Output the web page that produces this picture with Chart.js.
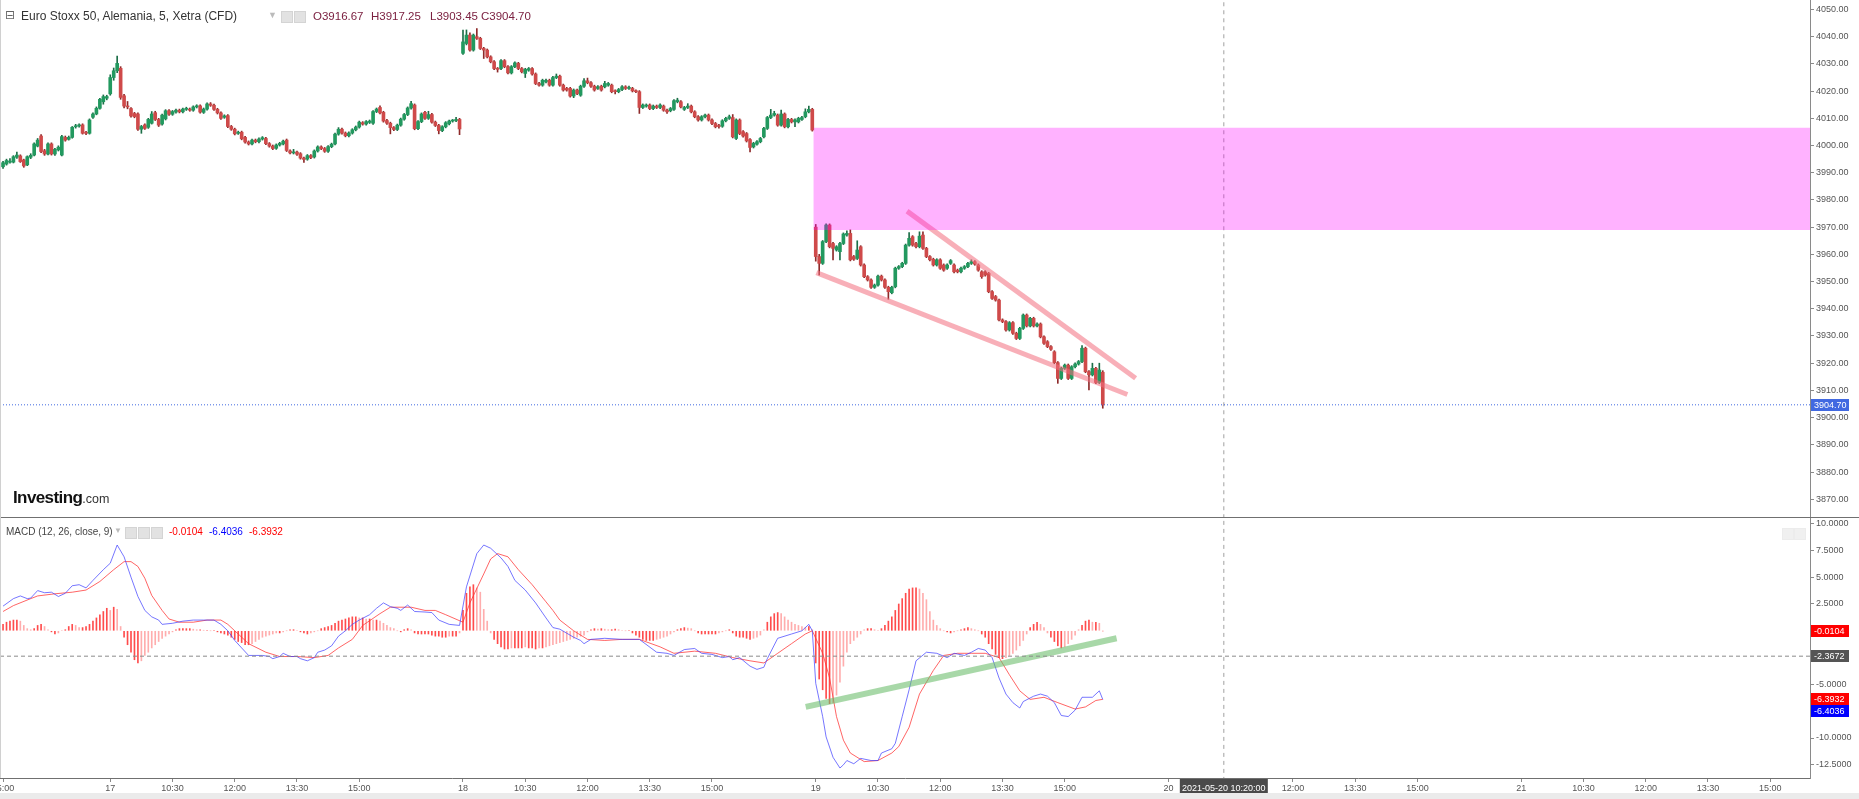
<!DOCTYPE html>
<html>
<head>
<meta charset="utf-8">
<script src="https://cdn.jsdelivr.net/npm/chart.js@4.4.1/dist/chart.umd.min.js"></script>
<style>
html, body { margin: 0; padding: 0; background: #fff; }
#wrap { position: relative; width: 1859px; height: 799px; overflow: hidden; font-family: "Liberation Sans", Arial, sans-serif; }
#price { position: absolute; left: 0; top: 0; }
#macd { position: absolute; left: 0; top: 518px; }
.sep { position: absolute; left: 0; top: 517px; width: 1859px; height: 1px; background: #707070; }
.lborder { position: absolute; left: 0; top: 0; width: 1px; height: 778px; background: #d0d0d0; }
.strip { position: absolute; left: 0; top: 793px; width: 1859px; height: 6px; background: #ebebeb; }
.t { position: absolute; white-space: nowrap; line-height: 14px; }
.ico { position: absolute; width: 10px; height: 10px; background: #e2e2e2; border: 1px solid #d4d4d4; }
#logo { position: absolute; left: 13px; top: 488px; font-weight: bold; font-size: 17px; letter-spacing: -0.6px; color: #111; }
#logo span { font-weight: normal; font-size: 12.5px; letter-spacing: 0; color: #333; }
</style>
</head>
<body>
<div id="wrap">
  <canvas id="price" width="1859" height="518"></canvas>
  <canvas id="macd" width="1859" height="281"></canvas>
  <div class="sep"></div>
  <div class="lborder"></div>
  <div class="strip"></div>

  <div class="t" style="left:5px;top:8px;font-size:12px;color:#666;font-family:'DejaVu Sans'">⊟</div>
  <div class="t" style="left:21px;top:9px;font-size:12px;color:#333">Euro Stoxx 50, Alemania, 5, Xetra (CFD)</div>
  <div class="t" style="left:268px;top:8px;font-size:9px;color:#bbb">▼</div>
  <div class="ico" style="left:281px;top:11px"></div>
  <div class="ico" style="left:294px;top:11px"></div>
  <div class="t" style="left:313px;top:9px;font-size:11.5px;color:#7b2040">O3916.67</div>
  <div class="t" style="left:371px;top:9px;font-size:11.5px;color:#7b2040">H3917.25</div>
  <div class="t" style="left:430px;top:9px;font-size:11.5px;color:#7b2040">L3903.45</div>
  <div class="t" style="left:481px;top:9px;font-size:11.5px;color:#7b2040">C3904.70</div>

  <div class="t" style="left:6px;top:525px;font-size:10px;color:#444">MACD (12, 26, close, 9)</div>
  <div class="t" style="left:114px;top:524px;font-size:8px;color:#bbb">▼</div>
  <div class="ico" style="left:125px;top:527px"></div>
  <div class="ico" style="left:138px;top:527px"></div>
  <div class="ico" style="left:151px;top:527px"></div>
  <div class="t" style="left:169px;top:525px;font-size:10px;color:#ff0000">-0.0104</div>
  <div class="t" style="left:209px;top:525px;font-size:10px;color:#0000ff">-6.4036</div>
  <div class="t" style="left:249px;top:525px;font-size:10px;color:#ff0000">-6.3932</div>
  <div class="ico" style="left:1782px;top:528px;background:#f0f0f0;border-color:#ececec"></div>
  <div class="ico" style="left:1794px;top:528px;background:#f0f0f0;border-color:#ececec"></div>

  <div id="logo">Investing<span>.com</span></div>
</div>

<script>
// 表示範囲（バー番号）
const xMin = -31.88, xMax = 491.5;

// ローソク足 [始値, 高値, 安値, 終値] 14日午後
const day14 = [
  [3992.2,3994.2,3991.6,3993.7],[3993.2,3995.0,3992.8,3994.5],[3993.9,3995.2,3993.5,3994.2],[3993.9,3996.3,3993.6,3995.9],[3995.7,3997.6,3995.3,3996.5],[3996.2,3996.6,3993.8,3994.1],
  [3994.7,3995.0,3992.0,3992.5],[3992.9,3996.2,3992.6,3995.9],[3995.7,3997.0,3995.2,3996.4],[3996.5,4001.0,3996.2,4000.6],[3999.8,4002.6,3999.5,4002.0],[4003.5,4004.0,3997.4,3997.8],
  [3998.1,3998.6,3996.4,3996.9],[3996.9,4001.0,3996.6,4000.6],[4000.6,4001.0,3996.5,3996.9],[3996.9,3999.0,3996.4,3998.6],[3998.4,3999.9,3998.0,3999.4],[3996.5,4003.8,3996.2,4003.3],
  [4003.0,4003.5,4001.6,4002.0],[4002.3,4003.5,4002.0,4003.0],[4003.0,4007.0,4002.7,4006.7],[4006.9,4007.8,4006.4,4007.2],[4007.2,4008.0,4006.8,4007.6],[4007.6,4008.0,4004.2,4004.5],
  [4004.7,4005.2,4004.0,4004.5],[4004.5,4009.8,4004.2,4009.4],[4010.4,4012.0,4010.0,4011.6],[4011.6,4014.2,4011.3,4013.7],[4013.7,4017.4,4013.4,4017.0],[4016.1,4018.6,4015.2,4018.0],
  [4017.4,4018.5,4016.8,4018.0]
];
// 17日
const day17 = [
  [4019.0,4026.0,4018.5,4025.0],[4025.0,4028.5,4024.0,4027.5],[4027.5,4032.9,4026.8,4030.2],[4028.4,4029.0,4017.0,4017.7],[4018.3,4018.8,4013.8,4014.5],[4014.5,4016.2,4013.5,4014.2],
  [4013.6,4014.0,4010.4,4010.9],[4011.8,4012.2,4010.2,4010.6],[4011.6,4012.0,4005.6,4006.0],[4006.0,4007.4,4004.5,4007.0],[4007.6,4008.0,4005.9,4006.3],[4006.7,4010.0,4006.3,4009.6],
  [4008.2,4012.5,4007.9,4011.6],[4012.1,4012.6,4009.2,4009.6],[4009.6,4010.0,4007.0,4007.5],[4007.9,4011.6,4007.5,4011.2],[4009.8,4013.2,4009.4,4012.8],[4012.8,4013.2,4011.1,4011.5],
  [4011.5,4012.9,4011.1,4012.5],[4012.3,4013.4,4011.9,4013.0],[4013.0,4013.4,4012.0,4012.4],[4012.4,4013.8,4012.0,4013.4],[4013.3,4014.1,4012.9,4013.7],[4013.4,4013.8,4012.6,4013.0],
  [4013.0,4014.6,4012.6,4014.2],[4014.2,4015.0,4013.8,4014.6],[4014.6,4015.0,4011.9,4012.3],[4012.2,4013.8,4011.8,4013.4],[4013.4,4015.7,4013.0,4015.3],[4015.3,4015.8,4014.4,4014.8],
  [4014.8,4015.2,4012.9,4013.3],[4013.3,4013.7,4011.6,4012.0],[4012.0,4012.4,4009.6,4010.0],[4010.4,4011.3,4010.0,4010.9],[4011.0,4011.4,4006.6,4007.0],[4007.0,4007.4,4005.6,4006.0],
  [4006.0,4006.4,4003.9,4004.3],[4004.5,4005.3,4004.1,4004.9],[4004.9,4005.3,4002.1,4002.5],[4003.0,4003.4,4000.9,4001.3],[4001.3,4001.7,4000.2,4000.6],[4000.6,4002.4,4000.2,4002.0],
  [4002.0,4002.4,4001.0,4001.4],[4001.4,4002.8,4001.0,4002.4],[4002.4,4003.3,4002.0,4002.9],[4002.6,4003.0,4000.3,4000.7],[4000.7,4001.1,3999.4,3999.8],[3999.8,4000.2,3998.5,3998.9],
  [3999.0,4000.6,3998.6,4000.2],[4000.2,4001.2,3999.8,4000.8],[4000.6,4002.0,4000.2,4001.6],[4002.0,4002.4,3997.8,3998.2],[3998.0,3998.4,3996.9,3997.3],[3997.3,3998.6,3996.9,3997.6],
  [3997.6,3998.0,3996.4,3996.8],[3997.0,3997.4,3995.0,3995.4],[3995.4,3995.8,3993.8,3994.9],[3995.0,3996.7,3994.6,3996.3],[3996.3,3996.7,3995.2,3995.6],[3995.8,3998.4,3995.4,3998.0],
  [3998.0,3999.9,3997.6,3999.5],[3999.5,3999.9,3998.5,3998.9],[3998.9,3999.3,3997.5,3997.9],[3997.9,4000.0,3997.5,3999.6],[3999.6,4000.9,3999.2,4000.5],[4000.6,4004.6,4000.2,4004.2],
  [4004.2,4006.6,4003.8,4006.0],[4006.0,4006.4,4004.2,4004.6],[4004.6,4005.0,4003.2,4003.6],[4003.6,4005.0,4003.2,4004.6],[4004.6,4006.2,4004.2,4005.8],[4005.8,4007.2,4005.4,4006.8],
  [4006.8,4009.0,4006.4,4008.6],[4008.4,4008.8,4007.5,4007.9],[4007.9,4009.2,4007.5,4008.8],[4008.5,4009.4,4008.1,4009.0],[4008.2,4012.9,4007.8,4012.5],[4012.5,4013.8,4012.1,4013.4],
  [4014.0,4014.6,4011.6,4012.0],[4012.2,4012.6,4008.6,4009.0],[4009.2,4009.6,4007.8,4008.2],[4008.2,4008.6,4004.3,4006.6],[4006.6,4007.0,4005.5,4005.9],[4005.9,4007.9,4005.5,4007.5],
  [4007.5,4010.1,4007.1,4009.7],[4009.7,4011.8,4009.3,4011.4],[4011.4,4014.2,4011.0,4013.8],[4013.8,4016.3,4013.4,4015.4],[4014.9,4015.3,4005.8,4006.2],[4006.2,4009.2,4005.8,4008.8],
  [4008.8,4012.0,4008.4,4011.6],[4012.2,4012.6,4009.6,4010.0],[4010.0,4012.6,4009.6,4011.4],[4011.4,4011.8,4008.2,4008.6],[4008.6,4009.0,4007.0,4007.4],[4007.4,4007.8,4004.3,4005.5],
  [4005.5,4007.3,4005.1,4006.9],[4006.9,4008.8,4006.5,4008.4],[4008.0,4009.4,4007.6,4009.0],[4009.0,4009.6,4008.6,4009.2],[4009.2,4010.4,4008.8,4009.6],[4009.6,4010.0,4004.0,4006.1]
];
// 18日
const day18 = [
  [4033.9,4042.4,4033.5,4038.1],[4037.5,4042.5,4037.0,4040.6],[4040.6,4041.4,4034.7,4035.1],[4035.1,4041.0,4034.7,4040.6],[4040.0,4043.0,4039.0,4039.4],[4039.4,4039.8,4035.3,4035.7],
  [4035.7,4036.1,4032.0,4035.1],[4035.1,4035.5,4032.2,4032.6],[4032.6,4033.0,4030.4,4030.8],[4030.8,4031.2,4027.9,4028.3],[4028.3,4028.7,4027.0,4028.0],[4028.3,4031.6,4027.9,4031.2],
  [4031.2,4031.6,4028.6,4029.0],[4029.0,4029.4,4026.3,4026.7],[4026.7,4029.4,4026.3,4029.0],[4029.0,4030.8,4028.6,4030.4],[4030.2,4030.6,4027.9,4028.3],[4028.3,4028.7,4026.7,4027.1],
  [4026.5,4028.4,4025.0,4028.0],[4027.7,4028.7,4027.3,4028.3],[4028.3,4028.7,4025.9,4026.3],[4026.3,4026.7,4022.4,4022.8],[4022.8,4023.2,4021.8,4022.2],[4022.2,4024.4,4021.8,4024.0],
  [4023.4,4024.4,4023.0,4024.0],[4024.0,4024.4,4021.8,4022.2],[4022.2,4025.4,4021.8,4025.0],[4025.0,4026.3,4024.6,4025.5],[4025.5,4025.9,4021.8,4022.2],[4022.2,4022.6,4020.0,4020.4],
  [4021.0,4021.4,4020.0,4020.4],[4021.0,4021.4,4017.8,4018.2],[4018.2,4020.8,4017.6,4020.4],[4020.4,4020.8,4018.7,4019.1],[4018.5,4022.2,4018.1,4021.8],[4021.8,4024.6,4021.4,4023.8],
  [4023.8,4024.8,4022.7,4023.1],[4023.1,4023.5,4021.4,4021.8],[4021.8,4022.2,4020.0,4020.4],[4021.0,4022.0,4020.6,4021.6],[4021.8,4022.2,4020.0,4020.4],[4021.6,4023.6,4021.2,4022.8],
  [4022.2,4023.2,4021.8,4022.8],[4022.2,4022.6,4019.4,4019.8],[4020.1,4020.5,4019.0,4019.8],[4019.8,4021.0,4019.4,4020.6],[4020.6,4022.0,4020.2,4021.6],[4021.6,4022.0,4020.6,4021.0],
  [4021.0,4021.9,4020.6,4021.1],[4021.0,4021.4,4019.7,4020.1],[4020.1,4020.5,4019.4,4019.8],[4019.8,4020.2,4011.8,4014.0],[4014.0,4015.3,4013.6,4014.9],[4014.5,4015.3,4014.1,4014.9],
  [4014.9,4015.3,4013.2,4013.6],[4013.6,4014.9,4013.2,4014.5],[4014.5,4014.9,4013.6,4014.0],[4014.0,4015.3,4013.6,4014.9],[4014.5,4014.9,4012.6,4013.0],[4013.0,4013.4,4011.8,4012.4],
  [4012.8,4014.0,4012.4,4013.6],[4013.3,4016.9,4012.9,4016.5],[4016.1,4017.4,4015.7,4016.7],[4016.1,4016.5,4013.8,4014.2],[4013.3,4014.4,4012.9,4014.0],[4014.0,4015.4,4013.6,4014.5],
  [4014.5,4014.9,4012.0,4012.4],[4012.4,4012.8,4010.2,4010.6],[4010.6,4011.0,4009.0,4009.4],[4009.4,4011.0,4009.0,4010.6],[4010.6,4011.6,4010.2,4011.2],[4011.2,4011.6,4009.0,4009.4],
  [4009.4,4009.8,4007.7,4008.1],[4008.1,4008.5,4006.5,4006.9],[4007.1,4007.8,4006.4,4007.0],[4007.1,4009.5,4006.7,4009.1],[4009.1,4010.4,4008.7,4010.0],[4010.0,4011.2,4009.6,4010.6],
  [4010.3,4011.4,4002.8,4003.2],[4002.6,4009.8,4002.2,4009.4],[4009.4,4009.8,4004.0,4004.4],[4005.1,4005.5,4003.1,4003.5],[4004.4,4004.8,4001.3,4001.7],[4002.2,4002.6,3997.7,3999.3],
  [3999.5,4001.2,3999.1,4000.8],[4000.5,4001.8,4000.1,4001.4],[4001.4,4003.0,4001.0,4002.6],[4003.2,4006.7,4002.8,4006.3],[4006.3,4010.7,4005.9,4010.3],[4010.3,4013.3,4009.9,4011.2],
  [4011.2,4012.6,4010.8,4011.8],[4011.2,4011.6,4007.1,4007.5],[4007.5,4013.0,4007.1,4011.6],[4011.6,4012.0,4006.5,4006.9],[4006.9,4010.0,4006.5,4009.6],[4009.6,4010.0,4008.3,4008.7],
  [4008.7,4009.8,4006.9,4009.4],[4008.7,4010.4,4008.3,4010.0],[4009.6,4010.7,4009.2,4010.3],[4010.6,4013.5,4010.2,4012.4],[4012.4,4014.5,4012.0,4013.3],[4013.3,4013.7,4005.3,4005.7]
];
// 19日
const day19 = [
  [3970.0,3971.0,3957.5,3959.2],[3959.2,3960.0,3952.4,3956.7],[3956.7,3965.1,3956.3,3964.7],[3964.7,3971.2,3964.3,3970.8],[3970.8,3971.2,3962.4,3962.8],[3964.0,3964.4,3958.0,3962.2],
  [3961.6,3963.2,3961.2,3962.8],[3961.0,3964.4,3958.0,3964.0],[3964.0,3967.9,3963.6,3967.5],[3967.1,3968.7,3966.7,3967.7],[3967.7,3969.0,3957.6,3958.0],[3959.2,3959.6,3957.8,3958.2],
  [3958.5,3965.0,3958.1,3961.6],[3962.8,3963.2,3955.7,3956.1],[3956.1,3956.5,3951.4,3951.8],[3951.8,3952.2,3950.2,3950.6],[3950.6,3951.0,3947.5,3947.9],[3947.9,3949.1,3947.5,3948.7],
  [3948.7,3952.4,3948.3,3952.0],[3952.0,3952.4,3950.2,3950.6],[3950.6,3951.0,3947.5,3947.9],[3947.9,3948.3,3943.5,3946.3],[3945.9,3948.3,3945.5,3947.9],[3948.1,3955.3,3947.7,3954.9],
  [3954.9,3955.9,3954.5,3955.5],[3955.5,3957.1,3955.1,3956.7],[3956.7,3963.8,3956.3,3963.4],[3963.4,3968.0,3963.0,3965.9],[3966.5,3966.9,3963.0,3963.4],[3964.0,3964.4,3962.4,3962.8],
  [3962.8,3968.3,3962.4,3966.7],[3967.1,3968.3,3961.8,3962.2],[3962.2,3962.6,3958.8,3959.2],[3959.2,3959.6,3957.6,3958.0],[3958.2,3958.6,3955.7,3956.1],[3956.1,3958.4,3955.7,3958.0],
  [3958.0,3958.4,3954.5,3954.9],[3956.1,3956.5,3953.8,3954.2],[3954.9,3956.5,3954.5,3956.1],[3956.7,3958.1,3956.3,3957.7],[3956.1,3956.5,3953.2,3953.6],[3954.2,3954.6,3953.2,3953.6],
  [3953.6,3955.3,3953.2,3954.9],[3954.9,3955.9,3954.5,3955.5],[3955.5,3957.1,3955.1,3956.7],[3956.7,3958.0,3956.3,3957.3],[3957.3,3957.7,3956.0,3956.4],[3956.1,3956.5,3953.8,3954.2],
  [3953.6,3954.0,3951.2,3951.8],[3953.6,3954.0,3952.0,3952.4],[3953.0,3953.4,3945.9,3946.3],[3946.3,3946.7,3943.4,3943.8],[3944.5,3944.9,3942.8,3943.2],[3943.2,3943.6,3935.5,3935.9],
  [3935.9,3936.3,3934.9,3935.3],[3935.3,3935.7,3931.8,3932.2],[3932.2,3935.3,3931.8,3934.9],[3934.9,3935.3,3930.6,3931.0],[3931.0,3931.4,3928.7,3929.1],[3929.1,3933.2,3928.7,3932.8],
  [3932.8,3938.1,3932.4,3937.7],[3937.7,3938.1,3933.3,3933.7],[3933.7,3936.9,3933.3,3936.5],[3936.5,3936.9,3933.3,3933.7],[3933.7,3934.8,3933.3,3934.4],[3934.4,3934.8,3929.3,3929.7],
  [3929.7,3930.1,3926.9,3927.3],[3927.9,3928.3,3925.7,3926.1],[3926.1,3926.5,3924.7,3925.1],[3924.2,3924.6,3919.8,3920.2],[3920.2,3920.6,3912.6,3914.4],[3914.4,3918.5,3914.0,3918.1],
  [3918.1,3919.7,3917.7,3919.3],[3919.3,3919.7,3914.0,3914.4],[3914.4,3919.1,3914.0,3918.7],[3918.7,3920.1,3918.3,3919.7],[3919.7,3921.0,3919.3,3920.6],[3920.6,3926.5,3920.2,3925.5],
  [3925.5,3925.9,3916.5,3916.9],[3916.9,3917.3,3910.2,3915.7],[3915.7,3920.0,3915.3,3918.1],[3918.1,3918.5,3912.5,3912.9],[3912.9,3920.0,3912.5,3917.5],[3916.67,3917.25,3903.45,3904.70]
];
// 各日の先頭バー番号
const dayStarts = [-31, 0, 102, 204];

// MACDヒストグラム（日別）
const hist14 = [0.6,0.8,0.9,1.0,1.0,0.9,0.5, 0.2,0.1,0.2, 0.5,0.6,0.4, 0.1,-0.1,-0.3, -0.2,0.0,0.1, 0.4,0.6,0.5, 0.3,0.3,0.4, 0.6,0.9,1.2,1.5,1.8,2.1];
const hist17 = [1.9,2.2,2.0,
  0.4,-0.6,-1.3,-2.0,-2.7,-3.0,-2.8,-2.3,-2.0,-1.6,-1.3,-1.0,-0.7,-0.5,-0.3,-0.1,
  0.1,0.2,0.2,0.2,0.2,0.15,0.1,0.1,0.05,0.05,0.0,0.0,
  -0.1,-0.2,-0.3,-0.4,-0.6,-0.8,
  -1.0,-1.1,-1.3,-1.3,-1.2,-1.0,-0.8,-0.6,-0.5,
  -0.4,-0.3,-0.2,-0.2,-0.1,
  0.0,0.1,0.1,0.0,-0.1,-0.2,-0.3,-0.2,-0.1,0.0,
  0.2,0.3,0.4,0.5,0.7,0.9,
  1.0,1.1,1.2,1.3,1.3,1.2,
  1.2,1.1,1.1,1.0,1.0,0.9,0.7,0.5,
  0.3,0.2,0.0,-0.1,0.1,
  0.2,0.1,-0.2,-0.3,-0.3,-0.3,-0.3,
  -0.4,-0.5,-0.5,-0.6,-0.6,-0.5,-0.5,-0.5,
  -0.2];
const hist18 = [1.9,3.5,4.1,4.3,4.0,3.6,2.0,0.9,-0.2,
  -0.8,-1.2,-1.5,-1.7,-1.7,-1.6,-1.6,
  -1.6,-1.6,-1.5,-1.6,-1.6,-1.7,-1.6,-1.6,-1.5,
  -1.4,-1.3,-1.2,-1.1,-1.0,-0.9,-0.8,-0.7,-0.6,-0.5,-0.4,
  -0.1,0.1,
  0.2,0.15,0.2,0.15,0.1,0.1,0.15,0.1,0.05,0.0,0.0,
  -0.2,-0.4,
  -0.6,-0.8,-0.9,-0.9,-0.9,-0.8,-0.7,-0.6,-0.5,-0.3,-0.1,
  0.1,0.2,0.3,0.25,0.2,0.0,
  -0.2,-0.3,-0.3,-0.3,-0.3,-0.3,-0.2,-0.1,0.0,0.1,-0.2,
  -0.5,-0.6,-0.6,-0.7,-0.8,-0.7,-0.6,-0.4,0.1,
  0.8,1.3,1.6,1.7,1.6,
  1.3,1.0,0.8,0.6,0.5,0.4,0.3,
  0.4,0.1];
const hist19 = [-3.0,-4.5,-5.5,-6.3,-6.8,-6.7,-6.0,-4.8,-3.3,-2.0,-1.2,-0.9,-0.6,-0.3,0.1,0.2,0.2,0.1,0.0,
  0.2,0.5,0.9,1.3,1.9,2.5,3.0,3.5,3.9,4.0,
  4.0,3.9,3.5,2.9,1.8,1.0,
  0.5,0.2,0.0,
  -0.1,-0.2,-0.1,0.0,0.1,0.2,0.3,0.2,0.1,0.0,-0.3,-0.6,
  -1.2,-1.7,-2.2,-2.5,-2.6,-2.5,-2.3,-2.1,-1.8,-1.4,-0.9,
  -0.3,0.3,0.6,0.8,0.6,0.3,
  -0.2,-0.6,-1.0,-1.4,-1.6,-1.5,-1.2,-0.8,-0.4,
  0.1,0.5,0.9,1.0,0.8,0.8,0.7,-0.0104];

// MACDライン [バー番号, 値]
const macdLine = [[-31,2.3],[-28,3.0],[-26,3.25],[-24,3.0],[-23,3.05],[-21,3.75],[-19,3.55],[-17,3.6],[-15,3.2],[-13,3.5],[-11,4.2],[-9,4.3],[-7,4.0],[-5,4.7],[-2,5.7],
  [0,6.3],[2,8.0],[4,6.9],[6,5.0],[8,3.2],[10,1.9],[12,1.3],[14,1.0],[15,0.6],[18,0.7],[21,0.9],[24,1.0],[27,1.0],[30,1.0],[32,0.6],[34,0.0],[36,-0.9],[38,-1.6],[40,-2.3],
  [44,-2.3],[46,-2.4],[47,-2.6],[49,-2.4],[50,-2.1],[52,-2.4],[54,-2.4],[55,-2.6],[57,-2.8],[59,-2.5],[60,-2.0],[62,-1.8],[64,-1.4],[66,-0.5],[68,0.0],[70,0.6],[72,1.0],
  [75,1.5],[77,2.1],[79,2.6],[81,2.25],[83,2.1],[84,1.9],[86,2.4],[88,1.8],[91,1.75],[93,1.7],[95,1.0],[98,0.6],[101,0.5],
  [103,4.1],[106,7.2],[108,8.0],[110,7.7],[113,6.8],[115,6.0],[117,4.7],[120,3.8],[123,2.6],[126,1.2],[128,0.3],[130,0.15],[134,-0.6],[136,-0.9],[137,-1.2],[139,-0.8],
  [143,-0.7],[148,-0.8],[153,-0.8],[158,-2.0],[161,-2.1],[163,-2.3],[166,-1.75],[169,-1.65],[171,-2.1],[174,-2.2],[177,-2.5],[179,-2.4],[180,-2.7],[182,-2.5],[185,-3.3],
  [187,-3.6],[189,-3.4],[190,-2.6],[193,-0.7],[197,-0.3],[200,0.0],[202,0.6],[203,0.0],
  [204,-4.9],[206,-8.0],[207,-9.9],[209,-11.8],[211,-12.8],[212,-12.5],[213,-12.1],[215,-12.4],[217,-11.9],[220,-12.1],[222,-12.1],[223,-11.4],[226,-11.0],[227,-10.5],
  [229,-8.0],[231,-5.5],[233,-2.8],[236,-2.0],[239,-2.1],[242,-2.5],[244,-2.1],[247,-2.3],[249,-2.0],[251,-1.65],[253,-1.8],[255,-2.5],[257,-4.4],[259,-5.9],[261,-6.7],
  [263,-7.2],[264,-6.6],[267,-6.1],[269,-5.9],[271,-6.1],[273,-6.7],[275,-7.9],[277,-8.0],[279,-7.4],[281,-6.2],[284,-6.2],[286,-5.6],[287,-6.4036]];
// シグナルライン [バー番号, 値]
const signalLine = [[-31,1.8],[-28,2.35],[-23,3.0],[-21,3.25],[-16,3.45],[-11,3.6],[-7,3.8],[-3,4.6],[1,5.7],[4,6.45],[6,6.45],[8,6.0],[10,4.9],[12,3.3],[15,1.9],[17,1.1],
  [20,0.8],[24,0.8],[28,1.0],[32,1.0],[34,0.6],[37,-0.3],[40,-1.2],[45,-2.0],[49,-2.4],[54,-2.4],[59,-2.5],[63,-2.3],[66,-1.6],[70,-0.8],[73,0.5],[78,1.6],[81,2.2],
  [87,2.2],[91,1.9],[94,1.9],[97,1.5],[102,0.8],[104,2.6],[108,5.3],[110,6.7],[112,7.2],[115,6.9],[118,5.7],[122,4.3],[126,2.7],[128,1.9],[130,1.0],[134,0.0],[138,-0.8],
  [143,-0.9],[148,-0.8],[153,-0.8],[159,-1.5],[163,-2.1],[169,-1.9],[175,-2.1],[180,-2.5],[185,-2.8],[189,-3.0],[193,-2.1],[197,-1.2],[201,-0.3],[203,0.0],
  [206,-2.1],[208,-4.4],[210,-8.0],[212,-10.2],[214,-11.4],[218,-12.2],[222,-12.1],[226,-11.4],[228,-10.8],[231,-9.0],[234,-5.9],[238,-3.7],[241,-2.3],[245,-2.1],
  [249,-2.1],[253,-2.1],[257,-2.5],[260,-4.1],[263,-5.6],[266,-6.4],[270,-6.2],[274,-6.7],[279,-7.3],[282,-7.1],[285,-6.5],[287,-6.3932]];

// 描画済みの図形（サポート帯・トレンドライン）
const zoneRange = [203.3, 4006.5, 3969.0];          // 開始バー, 上限, 下限
const upperTrend = [[230.4, 3975.9], [296.5, 3914.5]];
const lowerTrend = [[204.2, 3953.3], [294.1, 3908.5]];
const macdTrend = [[201.1, -7.1], [291.0, -0.7]];
const lastPrice = 3904.70;
const crossBar = 322, crossValue = -2.3672, crossLabel = '2021-05-20 10:20:00';

// X軸の目盛り
const tickIdx = [-31, 0, 18, 36, 54, 72, 102, 120, 138, 156, 174, 204, 222, 240, 258, 276, 306, 324, 342, 360, 378, 408, 426, 444, 462, 480];
const tickText = ['15:00','17','10:30','12:00','13:30','15:00','18','10:30','12:00','13:30','15:00','19','10:30','12:00','13:30','15:00','20','10:30','12:00','13:30','15:00','21','10:30','12:00','13:30','15:00'];

// 右端のラベル
const macdTags = [[-0.0104, '-0.0104', '#ff0000', 0], [-2.3672, '-2.3672', '#555555', 0], [-6.3932, '-6.3932', '#ff0000', 0], [-6.4036, '-6.4036', '#0000ff', 12]];

const FONT = '"Liberation Sans", Arial, sans-serif';

// ローソク足データを展開
const bars = [];
[day14, day17, day18, day19].forEach((rows, d) => {
    rows.forEach((r, k) => bars.push({ x: dayStarts[d] + k, o: r[0], h: r[1], l: r[2], c: r[3] }));
});
const histPts = [];
[hist14, hist17, hist18, hist19].forEach((vals, d) => {
    vals.forEach((v, k) => histPts.push({ x: dayStarts[d] + k, y: v }));
});

function drawTag(ctx, area, y, text, bg) {
    ctx.save();
    ctx.fillStyle = bg;
    ctx.fillRect(area.right + 1, Math.round(y) - 6, 38, 12);
    ctx.fillStyle = '#fff';
    ctx.font = '9px ' + FONT;
    ctx.textAlign = 'left';
    ctx.textBaseline = 'middle';
    ctx.fillText(text, area.right + 4, Math.round(y) + 0.5);
    ctx.restore();
}

function rightAxis(min, max, step, digits) {
    return {
        position: 'right', min: min, max: max,
        afterFit: s => { s.width = 49; s.paddingTop = 0; s.paddingBottom = 0; },
        ticks: { stepSize: step, includeBounds: false, padding: 2, color: '#555', font: { size: 9, family: FONT }, callback: v => v.toFixed(digits) },
        grid: { drawOnChartArea: false, drawTicks: true, tickLength: 4, color: '#8a8a8a' },
        border: { color: '#8a8a8a' }
    };
}

function lineSet(points, color, width, dash, order) {
    return {
        type: 'line', data: points.map(p => ({ x: p[0], y: p[1] })),
        borderColor: color, borderWidth: width, borderDash: dash || [], pointRadius: 0,
        fill: false, tension: 0, order: order
    };
}

// 価格チャート
new Chart(document.getElementById('price'), {
    type: 'bar',
    data: {
        datasets: [
            // ヒゲ
            {
                data: bars.map(b => ({ x: b.x, y: [b.l, b.h] })),
                backgroundColor: bars.map(b => b.c >= b.o ? '#1c6e47' : '#8e2a2a'),
                barThickness: 1, grouped: false, order: 4
            },
            // 実体
            {
                data: bars.map(b => ({ x: b.x, y: [b.o, b.c] })),
                backgroundColor: bars.map(b => b.c >= b.o ? '#22995f' : '#cf4a4a'),
                barThickness: 3, minBarLength: 1, grouped: false, order: 3
            },
            lineSet(upperTrend, 'rgba(242,110,125,0.55)', 5, null, 1),
            lineSet(lowerTrend, 'rgba(242,110,125,0.55)', 5, null, 1),
            // サポート帯
            {
                type: 'line',
                data: [{ x: zoneRange[0], y: zoneRange[1] }, { x: xMax, y: zoneRange[1] }],
                borderWidth: 0, pointRadius: 0, backgroundColor: 'rgba(255,0,255,0.3)',
                fill: { value: zoneRange[2] }, order: 0
            },
            lineSet([[xMin, lastPrice], [xMax, lastPrice]], '#4169e1', 1, [1, 2], 0),
            lineSet([[crossBar, 3863], [crossBar, 4054]], '#a0a0a0', 1, [4, 4], 0)
        ]
    },
    options: {
        responsive: false, animation: false,
        layout: { padding: 0 },
        plugins: { legend: { display: false }, tooltip: { enabled: false } },
        scales: {
            x: { type: 'linear', min: xMin, max: xMax, display: false, offset: false, grid: { offset: false } },
            y: rightAxis(3863.1, 4053.5, 10, 2)
        }
    },
    plugins: [{
        id: 'priceTag',
        afterDraw(chart) {
            drawTag(chart.ctx, chart.chartArea, chart.scales.y.getPixelForValue(lastPrice), lastPrice.toFixed(2), '#4169e1');
        }
    }]
});

// MACDチャート
new Chart(document.getElementById('macd'), {
    type: 'bar',
    data: {
        datasets: [
            {
                data: histPts,
                backgroundColor: ctx => {
                    const k = ctx.dataIndex;
                    const v = histPts[k].y, p = k > 0 ? histPts[k - 1].y : v;
                    return Math.abs(v) >= Math.abs(p) ? 'rgba(255,0,0,0.7)' : 'rgba(255,0,0,0.32)';
                },
                barThickness: 1, grouped: false, order: 4
            },
            lineSet(signalLine, 'rgba(255,50,50,0.75)', 1, null, 3),
            lineSet(macdLine, 'rgba(60,60,255,0.7)', 1, null, 2),
            lineSet(macdTrend, 'rgba(110,190,110,0.6)', 6, null, 1),
            lineSet([[xMin, crossValue], [xMax, crossValue]], '#8a8a8a', 1, [4, 3], 0),
            lineSet([[crossBar, -14], [crossBar, 11]], '#a0a0a0', 1, [4, 4], 0)
        ]
    },
    options: {
        responsive: false, animation: false,
        layout: { padding: 0 },
        plugins: { legend: { display: false }, tooltip: { enabled: false } },
        scales: {
            x: {
                type: 'linear', min: xMin, max: xMax, offset: false,
                afterBuildTicks: s => { s.ticks = tickIdx.map(v => ({ value: v })); },
                afterFit: s => { s.height = 21; s.paddingLeft = 0; s.paddingRight = 0; },
                ticks: { autoSkip: false, maxRotation: 0, padding: 1, color: '#555', font: { size: 9, family: FONT }, callback: (v, k) => tickText[k] },
                grid: { offset: false, drawOnChartArea: false, drawTicks: true, tickLength: 4, color: '#8a8a8a' },
                border: { color: '#707070' }
            },
            y: rightAxis(-13.73, 10.52, 2.5, 4)
        }
    },
    plugins: [{
        id: 'macdTags',
        afterDraw(chart) {
            const ctx = chart.ctx, area = chart.chartArea;
            macdTags.forEach(t => drawTag(ctx, area, chart.scales.y.getPixelForValue(t[0]) + t[3], t[1], t[2]));
            // クロスヘアの日時ラベル
            const px = chart.scales.x.getPixelForValue(crossBar);
            ctx.save();
            ctx.fillStyle = '#4a4a4a';
            ctx.fillRect(px - 44, area.bottom + 1, 88, 18);
            ctx.fillStyle = '#fff';
            ctx.font = '9px ' + FONT;
            ctx.textAlign = 'center';
            ctx.textBaseline = 'middle';
            ctx.fillText(crossLabel, px, area.bottom + 10.5);
            ctx.restore();
        }
    }]
});
</script>
</body>
</html>
